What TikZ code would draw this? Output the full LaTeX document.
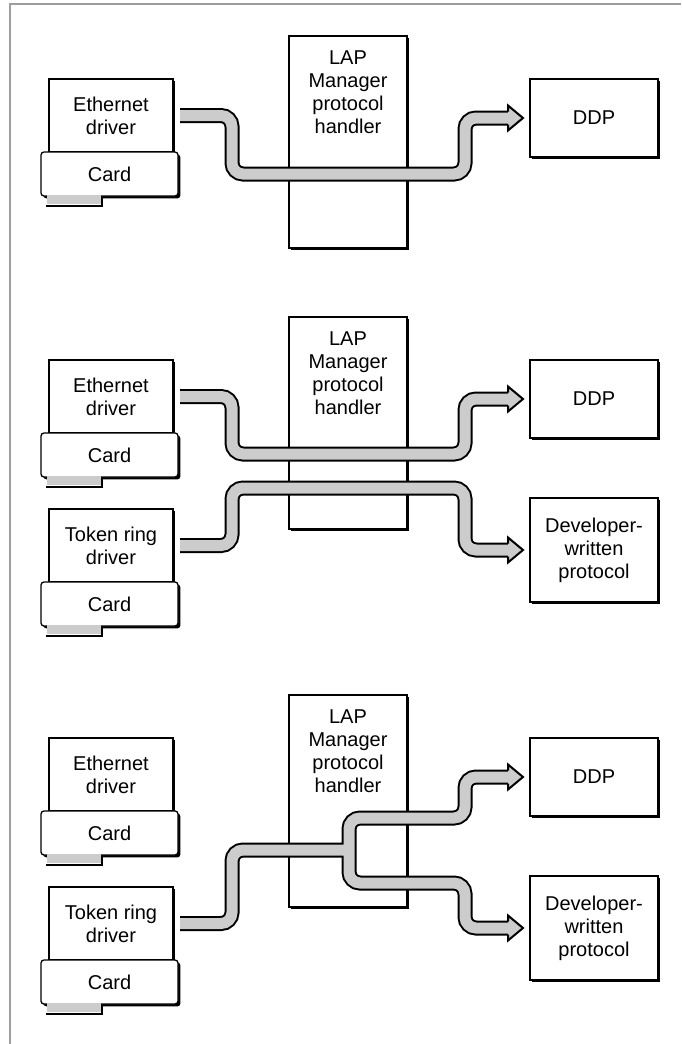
\documentclass[tikz,border=0pt]{standalone}
\usepackage{fontspec}
\setmainfont{Liberation Sans}
\usetikzlibrary{shadows}

\definecolor{pipegray}{gray}{0.8}

\tikzset{
  box/.style={draw, fill=white, line width=1.3pt, inner sep=0pt, outer sep=0pt,
    align=center, font=\fontsize{20}{23}\selectfont,
    drop shadow={shadow xshift=2.4pt, shadow yshift=-2.4pt, fill=black, opacity=1}},
  driver/.style={box, minimum width=124pt, minimum height=73pt},
  card/.style={box, rounded corners=3pt, minimum width=137pt, minimum height=44pt},
  handler/.style={box, minimum width=118pt, minimum height=212pt},
  target/.style={box, minimum width=128pt},
  handlername/.style={anchor=north, inner sep=0pt, align=center,
    font=\fontsize{20}{23}\selectfont},
  pipe/.style={draw=pipegray, line width=11pt, rounded corners=11pt,
    preaction={draw=black, line width=15pt}},
  pipehead/.style={fill=pipegray, draw=black, line width=2pt, miter limit=10},
  frame/.style={draw=black!38, line width=2pt}
}

% gray edge connector below a card
\newcommand{\cardtab}[1]{%
  \fill[pipegray] ([xshift=6pt,yshift=0.8pt]#1.south west) rectangle ++(54,9);
  \draw[line width=2.5pt] ([xshift=5pt,yshift=-10pt]#1.south west) -- ++(56,0) -- ++(0,-9);}

% arrow head at the end of a pipe
\newcommand{\pipehead}[1]{%
  \filldraw[pipehead] ([yshift=6.5pt]#1) -- ++(0,-6) -- ++(15,12.5) -- ++(-15,12.5) -- ++(0,-6);}

\begin{document}
\begin{tikzpicture}[x=1pt,y=-1pt]
  \useasboundingbox (0,0) rectangle (681,1044);
  \draw[frame] (681,4) -- (10,4) -- (10,1044);

  % one driver
  \begin{scope}
    \node[handler] (lap1) at (348,142) {};
    \node[handlername] (lap1txt) at ([yshift=-15pt]lap1.north) {LAP\\Manager\\protocol\\handler};
    \node[driver] (eth1) at (111,115.5) {Ethernet\\driver};
    \node[card] (ethcard1) at (109.5,174) {Card};
    \cardtab{ethcard1}
    \node[target, minimum height=78pt] (ddp1) at (594,118) {DDP};
    \coordinate (ddpin1) at ([xshift=-22pt]ddp1.west);

    \draw[pipe] ([xshift=7pt]eth1.east) -- ++(52,0) |- (465,174) |- (ddpin1);
    \pipehead{ddpin1}
  \end{scope}

  % two drivers, two protocols
  \begin{scope}[shift={(0,281)}]
    \node[handler] (lap2) at (348,142) {};
    \node[handlername] (lap2txt) at ([yshift=-15pt]lap2.north) {LAP\\Manager\\protocol\\handler};
    \node[driver] (eth2) at (111,115.5) {Ethernet\\driver};
    \node[card] (ethcard2) at (109.5,174) {Card};
    \cardtab{ethcard2}
    \node[driver] (tok2) at (111,264.5) {Token ring\\driver};
    \node[card] (tokcard2) at (109.5,323) {Card};
    \cardtab{tokcard2}
    \node[target, minimum height=78pt] (ddp2) at (594,118) {DDP};
    \node[target, minimum height=104pt] (dev2) at (594,269) {Developer-\\written\\protocol};
    \coordinate (ddpin2) at ([xshift=-22pt]ddp2.west);
    \coordinate (devin2) at ([xshift=-22pt]dev2.west);

    \draw[pipe] ([xshift=7pt]eth2.east) -- ++(52,0) |- (465,173) |- (ddpin2);
    \draw[pipe] ([xshift=7pt]tok2.east) -- ++(52,0) |- (465,207) |- (devin2);
    \pipehead{ddpin2}
    \pipehead{devin2}
  \end{scope}

  % token ring feeding both protocols
  \begin{scope}[shift={(0,659)}]
    \node[handler] (lap3) at (348,142) {};
    \node[handlername] (lap3txt) at ([yshift=-15pt]lap3.north) {LAP\\Manager\\protocol\\handler};
    \node[driver] (eth3) at (111,115.5) {Ethernet\\driver};
    \node[card] (ethcard3) at (109.5,174) {Card};
    \cardtab{ethcard3}
    \node[driver] (tok3) at (111,264.5) {Token ring\\driver};
    \node[card] (tokcard3) at (109.5,323) {Card};
    \cardtab{tokcard3}
    \node[target, minimum height=78pt] (ddp3) at (594,118) {DDP};
    \node[target, minimum height=104pt] (dev3) at (594,269) {Developer-\\written\\protocol};
    \coordinate (ddpin3) at ([xshift=-22pt]ddp3.west);
    \coordinate (devin3) at ([xshift=-22pt]dev3.west);
    \coordinate (fork3) at (349,191);

    \draw[pipe] ([xshift=7pt]tok3.east) -- ++(52,0) |- (fork3)
      (fork3) |- (465,159) |- (ddpin3)
      (fork3) |- (465,224) |- (devin3);
    \pipehead{ddpin3}
    \pipehead{devin3}
  \end{scope}
\end{tikzpicture}
\end{document}
